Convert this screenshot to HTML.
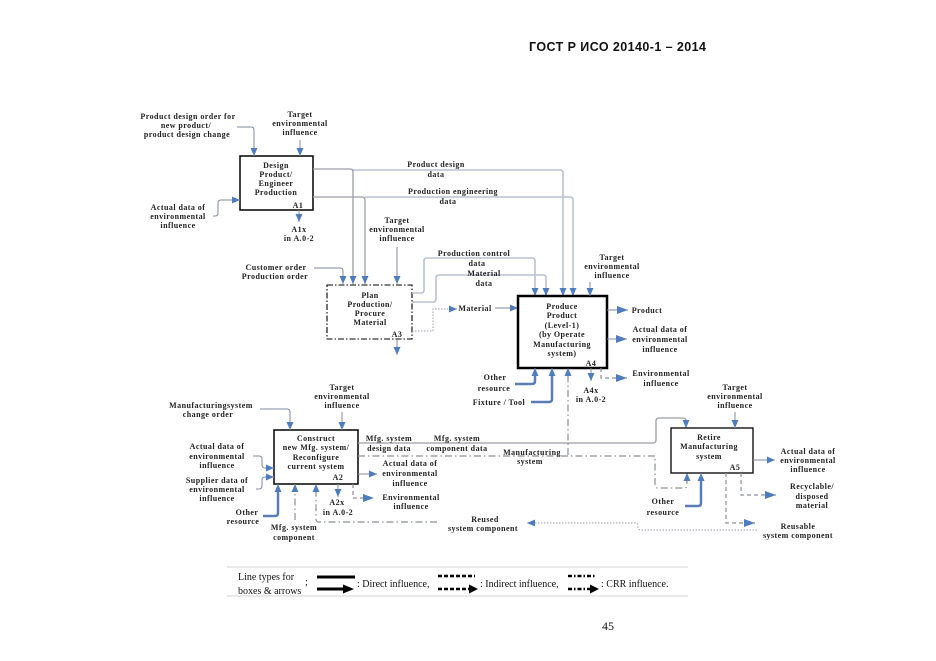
<!DOCTYPE html>
<html><head><meta charset="utf-8">
<style>
html,body{margin:0;padding:0;background:#fff;}
svg{display:block;}
.t{font-family:"Liberation Serif",serif;font-weight:bold;font-size:8px;letter-spacing:0.45px;fill:#222;text-anchor:middle;}
.s{font-family:"Liberation Serif",serif;font-size:10px;fill:#111;}
.l{fill:none;stroke:#7d8aa0;stroke-width:1;}
.g1{fill:none;stroke:#9a9ea6;stroke-width:1.3;}
.g2{fill:none;stroke:#b9c2d0;stroke-width:1.6;}
.k{fill:none;stroke:#5a7db8;stroke-width:2.5;}
.dd{fill:none;stroke:#8a8f98;stroke-width:1.2;stroke-dasharray:7,3,1.5,3;}
.da{fill:none;stroke:#8a8f98;stroke-width:1.2;stroke-dasharray:4,3;}
.do{fill:none;stroke:#9aa0aa;stroke-width:1;stroke-dasharray:1.5,1.5;}
</style></head><body>
<svg width="936" height="661" viewBox="0 0 936 661" xmlns="http://www.w3.org/2000/svg">
<defs>
<marker id="a" markerUnits="userSpaceOnUse" markerWidth="8" markerHeight="8" viewBox="0 0 8 8" refX="8" refY="4" orient="auto"><path d="M0,0.5 L8,4 L0,7.5z" fill="#4f7cbf"/></marker>
<marker id="b" markerUnits="userSpaceOnUse" markerWidth="11" markerHeight="9" viewBox="0 0 11 9" refX="11" refY="4.5" orient="auto"><path d="M0,0.5 L11,4.5 L0,8.5z" fill="#4f7cbf"/></marker>
</defs>

<!-- header -->
<text x="529" y="51" font-family="Liberation Sans, sans-serif" font-weight="bold" font-size="12.5" textLength="177" fill="#111">ГОСТ Р ИСО 20140-1 – 2014</text>
<text x="602" y="630" font-family="Liberation Serif, serif" font-size="12" fill="#111">45</text>

<!-- ===== A1 ===== -->
<rect x="240" y="156" width="73" height="54" fill="#fff" stroke="#000" stroke-width="1.5"/>
<text class="t" x="276" y="168">Design</text>
<text class="t" x="276" y="177">Product/</text>
<text class="t" x="276" y="186">Engineer</text>
<text class="t" x="276" y="195">Production</text>
<text class="t" x="298" y="208">A1</text>

<text class="t" x="188" y="119">Product design order for</text>
<text class="t" x="186" y="128">new product/</text>
<text class="t" x="187" y="137">product design change</text>
<path class="l" d="M237,127 H251 Q254,127 254,130 V156" marker-end="url(#a)"/>

<text class="t" x="300" y="117">Target</text>
<text class="t" x="300" y="126">environmental</text>
<text class="t" x="300" y="135">influence</text>
<path class="l" d="M300,140 V156" marker-end="url(#a)"/>

<text class="t" x="178" y="210">Actual data of</text>
<text class="t" x="178" y="219">environmental</text>
<text class="t" x="178" y="228">influence</text>
<path class="l" d="M213,216 H215 Q218,216 218,213 V203 Q218,200 221,200 H240" marker-end="url(#a)"/>

<path class="l" d="M299,210 V222" marker-end="url(#a)"/>
<text class="t" x="299" y="232">A1x</text>
<text class="t" x="299" y="241">in A.0-2</text>

<!-- A1 outputs -->
<path class="g2" d="M353,170 H560 Q563,170 563,173 V296" marker-end="url(#a)"/>
<path class="g1" d="M313,169 H350 Q353,169 353,172 V284" marker-end="url(#a)"/>
<path class="g2" d="M365,197 H570 Q573,197 573,200 V296" marker-end="url(#a)"/>
<path class="g1" d="M313,197 H362 Q365,197 365,200 V284" marker-end="url(#a)"/>
<text class="t" x="436" y="167">Product design</text>
<text class="t" x="436" y="177">data</text>
<text class="t" x="453" y="194">Production engineering</text>
<text class="t" x="448" y="204">data</text>

<!-- ===== A3 ===== -->
<rect x="327" y="285" width="85" height="54" fill="#fff" stroke="#000" stroke-width="1.1" stroke-dasharray="6,2,1.5,2"/>
<text class="t" x="370" y="298">Plan</text>
<text class="t" x="370" y="307">Production/</text>
<text class="t" x="370" y="316">Procure</text>
<text class="t" x="370" y="325">Material</text>
<text class="t" x="397" y="337">A3</text>

<text class="t" x="276" y="270">Customer order</text>
<text class="t" x="275" y="279">Production order</text>
<path class="l" d="M314,268 H340 Q343,268 343,271 V284" marker-end="url(#a)"/>

<text class="t" x="397" y="223">Target</text>
<text class="t" x="397" y="232">environmental</text>
<text class="t" x="397" y="241">influence</text>
<path class="l" d="M397,247 V284" marker-end="url(#a)"/>
<path class="l" d="M397,340 V355" marker-end="url(#a)"/>

<!-- A3 -> A4 -->
<path class="g2" d="M412,293 H421 Q424,293 424,290 V261 Q424,258 427,258 H532 Q535,258 535,261 V296" marker-end="url(#a)"/>
<path class="g2" d="M412,302 H433 Q436,302 436,299 V278 Q436,275 439,275 H543 Q546,275 546,278 V296" marker-end="url(#a)"/>
<text class="t" x="474" y="256">Production control</text>
<text class="t" x="477" y="266">data</text>
<text class="t" x="484" y="276">Material</text>
<text class="t" x="484" y="286">data</text>
<path class="do" d="M412,331 H433 V309 H457" marker-end="url(#a)"/>
<text class="t" x="475" y="311">Material</text>
<path class="l" d="M495,308 H518" marker-end="url(#a)"/>

<!-- ===== A4 ===== -->
<rect x="518" y="296" width="89" height="72" fill="#fff" stroke="#000" stroke-width="2.5"/>
<text class="t" x="562" y="309">Produce</text>
<text class="t" x="562" y="318">Product</text>
<text class="t" x="562" y="328">(Level-1)</text>
<text class="t" x="562" y="337">(by Operate</text>
<text class="t" x="562" y="347">Manufacturing</text>
<text class="t" x="562" y="356">system)</text>
<text class="t" x="591" y="366">A4</text>

<text class="t" x="612" y="260">Target</text>
<text class="t" x="612" y="269">environmental</text>
<text class="t" x="612" y="278">influence</text>
<path class="l" d="M590,282 V296" marker-end="url(#a)"/>

<path class="l" d="M607,310 H628" marker-end="url(#b)"/>
<text class="t" x="647" y="313">Product</text>
<path class="l" d="M607,339 H627" marker-end="url(#b)"/>
<text class="t" x="660" y="332">Actual data of</text>
<text class="t" x="660" y="342">environmental</text>
<text class="t" x="660" y="352">influence</text>
<path class="da" d="M601,368 V378 H627" marker-end="url(#b)"/>
<text class="t" x="661" y="376">Environmental</text>
<text class="t" x="661" y="386">influence</text>

<path class="l" d="M591,368 V381" marker-end="url(#a)"/>
<text class="t" x="591" y="393">A4x</text>
<text class="t" x="591" y="402">in A.0-2</text>

<text class="t" x="495" y="380">Other</text>
<text class="t" x="494" y="391">resource</text>
<path class="k" d="M515,384 H532 Q535,384 535,381 V372"/>
<path class="l" d="M535,376 V368" marker-end="url(#a)"/>
<text class="t" x="499" y="405">Fixture / Tool</text>
<path class="k" d="M531,402 H549 Q552,402 552,399 V372"/>
<path class="l" d="M552,376 V368" marker-end="url(#a)"/>
<path class="dd" d="M568,455 V368" marker-end="url(#a)"/>

<!-- ===== A2 ===== -->
<rect x="274" y="430" width="84" height="54" fill="#fff" stroke="#000" stroke-width="1.5"/>
<text class="t" x="316" y="441">Construct</text>
<text class="t" x="316" y="450">new Mfg. system/</text>
<text class="t" x="316" y="460">Reconfigure</text>
<text class="t" x="316" y="469">current system</text>
<text class="t" x="338" y="480">A2</text>

<text class="t" x="211" y="408">Manufacturingsystem</text>
<text class="t" x="208" y="417">change order</text>
<path class="l" d="M260,409 H287 Q290,409 290,412 V430" marker-end="url(#a)"/>

<text class="t" x="342" y="390">Target</text>
<text class="t" x="342" y="399">environmental</text>
<text class="t" x="342" y="408">influence</text>
<path class="l" d="M342,412 V430" marker-end="url(#a)"/>

<text class="t" x="217" y="449">Actual data of</text>
<text class="t" x="217" y="459">environmental</text>
<text class="t" x="217" y="468">influence</text>
<path class="l" d="M253,456 H259 Q262,456 262,459 V465 Q262,468 265,468 H274" marker-end="url(#a)"/>
<text class="t" x="217" y="483">Supplier data of</text>
<text class="t" x="217" y="492">environmental</text>
<text class="t" x="217" y="501">influence</text>
<path class="l" d="M256,489 H259 Q262,489 262,486 V480 Q262,477 265,477 H274" marker-end="url(#a)"/>

<text class="t" x="247" y="515">Other</text>
<text class="t" x="243" y="524">resource</text>
<path class="k" d="M263,516 H275 Q278,516 278,513 V488"/>
<path class="l" d="M278,492 V484" marker-end="url(#a)"/>
<path class="dd" d="M295,520 V484" marker-end="url(#a)"/>
<text class="t" x="294" y="530">Mfg. system</text>
<text class="t" x="294" y="540">component</text>
<path class="dd" d="M437,522 H319 Q316,522 316,519 V484" marker-end="url(#a)"/>

<path class="l" d="M358,474 H377" marker-end="url(#a)"/>
<text class="t" x="410" y="466">Actual data of</text>
<text class="t" x="410" y="476">environmental</text>
<text class="t" x="410" y="486">influence</text>
<path class="da" d="M353,484 V498 H374" marker-end="url(#b)"/>
<text class="t" x="411" y="500">Environmental</text>
<text class="t" x="411" y="509">influence</text>
<path class="l" d="M338,484 V497" marker-end="url(#a)"/>
<text class="t" x="337" y="505">A2x</text>
<text class="t" x="338" y="515">in A.0-2</text>

<!-- A2 -> A5 -->
<path class="g1" d="M358,443 H653 Q656,443 656,440 V421 Q656,418 659,418 H683 Q686,418 686,421 V428" marker-end="url(#a)"/>
<text class="t" x="389" y="441">Mfg. system</text>
<text class="t" x="389" y="451">design data</text>
<text class="t" x="457" y="441">Mfg. system</text>
<text class="t" x="457" y="451">component data</text>
<path class="dd" d="M358,456 H655 V485 Q655,488 658,488 H684 Q687,488 687,485 V473" marker-end="url(#a)"/>
<text class="t" x="532" y="455">Manufacturing</text>
<text class="t" x="530" y="464">system</text>

<!-- ===== A5 ===== -->
<rect x="671" y="428" width="82" height="45" fill="#fff" stroke="#000" stroke-width="1.3"/>
<text class="t" x="709" y="440">Retire</text>
<text class="t" x="709" y="449">Manufacturing</text>
<text class="t" x="709" y="459">system</text>
<text class="t" x="735" y="470">A5</text>

<text class="t" x="735" y="390">Target</text>
<text class="t" x="735" y="399">environmental</text>
<text class="t" x="735" y="408">influence</text>
<path class="l" d="M735,412 V428" marker-end="url(#a)"/>

<text class="t" x="663" y="504">Other</text>
<text class="t" x="663" y="515">resource</text>
<path class="k" d="M685,506 H698 Q701,506 701,503 V477"/>
<path class="l" d="M701,481 V473" marker-end="url(#a)"/>

<path class="l" d="M753,460 H775" marker-end="url(#a)"/>
<text class="t" x="808" y="454">Actual data of</text>
<text class="t" x="808" y="463">environmental</text>
<text class="t" x="808" y="472">influence</text>
<path class="da" d="M741,473 V495 H776" marker-end="url(#b)"/>
<text class="t" x="812" y="489">Recyclable/</text>
<text class="t" x="812" y="499">disposed</text>
<text class="t" x="812" y="508">material</text>
<path class="da" d="M726,473 V523 H755" marker-end="url(#b)"/>
<text class="t" x="798" y="529">Reusable</text>
<text class="t" x="798" y="538">system component</text>

<path class="do" d="M757,530 H641 Q638,530 638,527 V526 Q638,523 635,523 H527" marker-end="url(#a)"/>
<text class="t" x="485" y="522">Reused</text>
<text class="t" x="483" y="531">system component</text>

<!-- ===== Legend ===== -->
<line x1="227" y1="567" x2="688" y2="567" stroke="#d3d3d3" stroke-width="1"/>
<line x1="227" y1="596" x2="688" y2="596" stroke="#d3d3d3" stroke-width="1"/>
<text class="s" x="238" y="580">Line types for</text>
<text class="s" x="238" y="594">boxes &amp; arrows</text>
<text class="s" x="305" y="585">;</text>
<line x1="317" y1="577" x2="355" y2="577" stroke="#000" stroke-width="3"/>
<line x1="317" y1="589" x2="345" y2="589" stroke="#000" stroke-width="3"/>
<polygon points="343,584.5 354,589 343,593.5" fill="#000"/>
<text class="s" x="357" y="587">: Direct influence,</text>
<line x1="438" y1="576" x2="475" y2="576" stroke="#000" stroke-width="2.5" stroke-dasharray="4,2"/>
<line x1="438" y1="589" x2="469" y2="589" stroke="#000" stroke-width="2.5" stroke-dasharray="4,2"/>
<polygon points="469,584.5 478,589 469,593.5" fill="#000"/>
<text class="s" x="480" y="587">: Indirect influence,</text>
<line x1="568" y1="576" x2="596" y2="576" stroke="#000" stroke-width="2.5" stroke-dasharray="4,2,1.5,2"/>
<line x1="568" y1="589" x2="590" y2="589" stroke="#000" stroke-width="2.5" stroke-dasharray="4,2,1.5,2"/>
<polygon points="590,584.5 599,589 590,593.5" fill="#000"/>
<text class="s" x="601" y="587">: CRR influence.</text>
</svg>
</body></html>
